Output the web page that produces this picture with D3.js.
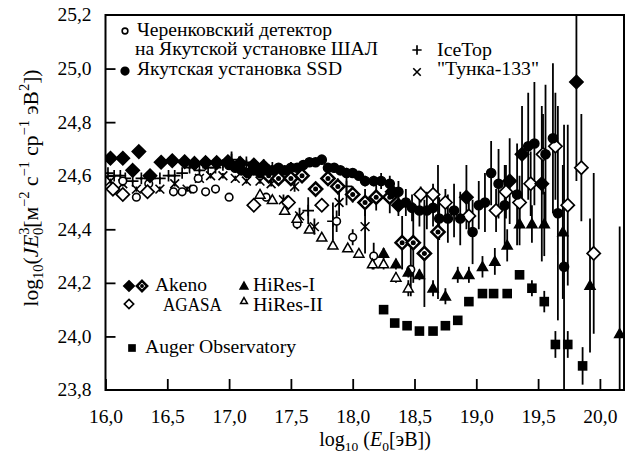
<!DOCTYPE html>
<html>
<head>
<meta charset="utf-8">
<script src="https://cdn.jsdelivr.net/npm/d3@7"></script>
<style>
body { margin: 0; background: #fff; }
text { font-family: "Liberation Serif", "Times New Roman", serif; fill: #000; }
</style>
</head>
<body>
<div id="graph"></div>
<script>
"use strict";

// Черенковский детектор, Якутск
var cherE   = [16.14,16.25,16.35,16.55,16.62,16.71,16.75,16.81,16.89,17.00,17.30,17.55,17.87,18.00,18.17,18.47];
var cherV   = [24.58,24.52,24.57,24.54,24.54,24.55,24.59,24.54,24.55,24.52,24.52,24.42,24.43,24.37,24.30,24.25];
var cherErr = [0.01,0.01,0.01,0.01,0.01,0.01,0.01,0.01,0.01,0.01,0.015,0.02,0.04,0.03,0.05,0.1];

// Якутская установка SSD
var ssdE   = [17.00,17.05,17.10,17.15,17.20,17.25,17.30,17.35,17.40,17.45,17.50,17.55,17.60,17.65,17.70,17.75,17.80,17.85,17.90,17.95,18.00,18.05,18.10,
              18.17,18.23,18.30,18.37,18.43,18.48,18.54,18.60,18.65,18.70,18.77,18.82,18.87,18.97,
              19.02,19.07,19.12,19.18,19.23,19.33,19.42,19.47,19.56,19.62,19.66,19.71];
var ssdV   = [24.64,24.63,24.62,24.61,24.62,24.61,24.62,24.62,24.63,24.62,24.63,24.63,24.64,24.65,24.65,24.66,24.63,24.63,24.62,24.61,24.61,24.60,24.58,
              24.58,24.58,24.57,24.54,24.50,24.48,24.47,24.47,24.48,24.44,24.44,24.47,24.44,24.39,
              24.49,24.50,24.61,24.57,24.49,24.53,24.71,24.72,24.68,24.74,24.46,24.26];
var ssdErr = [0.01,0.01,0.01,0.01,0.01,0.01,0.01,0.01,0.01,0.01,0.01,0.01,0.01,0.01,0.01,0.01,0.01,0.01,0.01,0.01,0.01,0.015,0.02,
              0.02,0.03,0.03,0.04,0.05,0.05,0.06,0.07,0.07,0.08,0.09,0.1,0.1,0.12,
              0.09,0.11,0.12,0.13,0.15,0.19,0.2,0.23,0.26,0.28,0.4,0.53];

// IceTop
var iceE   = [16.02,16.07,16.12,16.16,16.22,16.29,16.36,16.44,16.51,16.56,16.62,16.68,16.76,16.83,16.89,16.95,17.02,17.08,17.14,17.20,17.28,17.35,17.42,17.50,17.64,17.84,17.95];
var iceV   = [24.61,24.60,24.60,24.59,24.58,24.59,24.59,24.59,24.60,24.60,24.61,24.63,24.62,24.63,24.63,24.64,24.66,24.65,24.65,24.63,24.64,24.63,24.62,24.63,24.47,24.43,24.56];
var iceErr = [0.005,0.005,0.005,0.005,0.005,0.005,0.005,0.005,0.005,0.005,0.005,0.005,0.005,0.005,0.01,0.01,0.03,0.01,0.01,0.01,0.01,0.01,0.01,0.02,0.05,0.07,0.07];

// Тунка-133
var tunkaE   = [16.04,16.14,16.25,16.44,16.56,16.66,16.76,16.85,16.95,17.05,17.14,17.25,17.34,17.44,17.53,17.57,17.69,17.89,18.10];
var tunkaV   = [24.58,24.57,24.55,24.55,24.57,24.55,24.59,24.60,24.60,24.59,24.58,24.58,24.57,24.51,24.56,24.45,24.41,24.50,24.41];
var tunkaErr = [0.01,0.01,0.01,0.01,0.01,0.01,0.01,0.01,0.01,0.01,0.01,0.01,0.01,0.02,0.02,0.03,0.03,0.05,0.1];

// Akeno (чёрные ромбы)
var akenoE   = [16.04,16.14,16.22,16.27,16.36,16.45,16.54,16.64,16.72,16.81,16.90,16.99,17.09,17.20,17.28,18.32,18.37,18.92,19.27,19.37,19.53,19.81];
var akenoV   = [24.665,24.665,24.62,24.69,24.60,24.65,24.656,24.652,24.646,24.649,24.649,24.652,24.646,24.64,24.634,24.54,24.49,24.52,24.58,24.68,24.57,24.95];
var akenoErr = [0.01,0.01,0.01,0.01,0.01,0.01,0.01,0.01,0.01,0.01,0.01,0.01,0.01,0.01,0.01,0.03,0.04,0.12,0.16,0.18,0.29,0.37];

// Akeno (ромбы с точкой)
var akenoDotE   = [17.32,17.40,17.50,17.59,17.70,17.80,17.88,18.00,18.10,18.19,18.30,18.40,18.49,18.58,18.69];
var akenoDotV   = [24.60,24.59,24.59,24.60,24.55,24.59,24.56,24.53,24.50,24.52,24.52,24.35,24.35,24.31,24.39];
var akenoDotErr = [0.01,0.01,0.01,0.01,0.02,0.02,0.03,0.03,0.05,0.05,0.06,0.1,0.15,0.2,0.25];

// AGASA
var agasaE   = [16.06,16.14,16.34,17.20,17.48,17.75,18.55,18.65,18.75,18.94,19.16,19.24,19.35,19.44,19.54,19.64,19.74,19.85,19.95];
var agasaV   = [24.55,24.53,24.54,24.49,24.50,24.49,24.53,24.53,24.50,24.45,24.47,24.54,24.50,24.57,24.68,24.71,24.49,24.63,24.31];
var agasaErr = [0.01,0.01,0.01,0.01,0.01,0.02,0.03,0.04,0.05,0.06,0.08,0.1,0.1,0.12,0.15,0.2,0.3,0.2,0.3];

// HiRes-I
var hires1E   = [18.25,18.35,18.45,18.54,18.65,18.75,18.85,18.94,19.05,19.15,19.25,19.35,19.45,19.55,19.70,19.92,20.16];
var hires1V   = [24.31,24.27,24.24,24.23,24.18,24.15,24.23,24.23,24.26,24.28,24.34,24.42,24.42,24.42,24.39,24.19,24.01];
var hires1Err = [0.02,0.02,0.02,0.02,0.03,0.03,0.03,0.03,0.04,0.05,0.06,0.08,0.07,0.12,0.25,0.25,0.4];

// HiRes-II
var hires2E   = [17.25,17.35,17.45,17.55,17.65,17.75,17.84,17.96,18.05,18.16,18.25,18.35,18.45];
var hires2V   = [24.53,24.51,24.47,24.44,24.40,24.37,24.34,24.33,24.31,24.27,24.27,24.22,24.18];
var hires2Err = [0.01,0.01,0.01,0.01,0.01,0.01,0.01,0.01,0.015,0.02,0.02,0.02,0.03];

// Auger Observatory
var augerE   = [18.25,18.34,18.44,18.54,18.65,18.75,18.85,18.94,19.05,19.14,19.25,19.35,19.45,19.55,19.64,19.74,19.86];
var augerV   = [24.10,24.05,24.04,24.02,24.02,24.04,24.06,24.13,24.16,24.16,24.16,24.23,24.18,24.13,23.97,23.97,23.89];
var augerErr = [0.005,0.005,0.005,0.005,0.005,0.005,0.005,0.005,0.01,0.01,0.01,0.015,0.03,0.04,0.05,0.05,0.07];

// graduations
var xTicks = [16.0,16.5,17.0,17.5,18.0,18.5,19.0,19.5,20.0];
var yTicks = [23.8,24.0,24.2,24.4,24.6,24.8,25.0,25.2];

var larg = 629, haut = 457;
var gauche = 105.5, droite = 624, haute = 15, bas = 390;

var svg = d3.select("#graph")
	.append("svg")
	.attr("width", larg)
	.attr("height", haut)
	.attr("viewBox", "0 0 " + larg + " " + haut);

var x = d3.scaleLinear().domain([16, 20.195]).range([gauche, droite]);
var y = d3.scaleLinear().domain([23.8, 25.2]).range([bas, haute]);
var fmt = function(d){ return d3.format(".1f")(d).replace(".", ","); };

svg.append("clipPath").attr("id", "zone")
	.append("rect")
	.attr("x", gauche).attr("y", haute)
	.attr("width", droite - gauche).attr("height", bas - haute);

// axes : ticks vers l'intérieur
var ax = svg.append("g").attr("transform", "translate(0," + bas + ")")
	.call(d3.axisBottom(x).tickValues(xTicks).tickSizeInner(-11).tickSizeOuter(0).tickPadding(22).tickFormat(fmt));
var ay = svg.append("g").attr("transform", "translate(" + gauche + ",0)")
	.call(d3.axisLeft(y).tickValues(yTicks).tickSizeInner(-10).tickSizeOuter(0).tickPadding(14).tickFormat(fmt));
[ax, ay].forEach(function(a){
	a.select(".domain").remove();
	a.selectAll("line").attr("stroke", "#000").attr("stroke-width", 1.8);
	a.selectAll("text").attr("font-size", 19.5).attr("font-family", "Liberation Serif").attr("fill", "#000");
});
ax.selectAll("text").attr("dy", 0).attr("y", 33);
ay.selectAll("text").attr("dy", "0.3em");
ay.selectAll(".tick").filter(function(d){ return d === 23.8 || d === 25.2; }).select("line").remove();

// cadre
svg.append("rect")
	.attr("x", gauche).attr("y", haute)
	.attr("width", droite - gauche).attr("height", bas - haute)
	.attr("fill", "none").attr("stroke", "#000").attr("stroke-width", 2);

// formes des marqueurs
function marque(g, type, k)
{
	var r;
	if (type === "diamond" || type === "diamondDot" || type === "diamondOpen") {
		r = 6.6 * k;
		g.append("path")
			.attr("d", "M0," + (-r) + "L" + r + ",0L0," + r + "L" + (-r) + ",0Z")
			.attr("fill", type === "diamond" ? "#000" : "#fff")
			.attr("stroke", "#000")
			.attr("stroke-width", type === "diamondDot" ? 2.5 : 1.7);
		if (type === "diamondDot")
			g.append("circle").attr("r", 2.5 * k).attr("fill", "#000");
	} else if (type === "circle" || type === "circleOpen") {
		g.append("circle")
			.attr("r", type === "circle" ? 4.5 * k : 3.8 * k)
			.attr("fill", type === "circle" ? "#000" : "#fff")
			.attr("stroke", "#000").attr("stroke-width", 1.6);
	} else if (type === "tri" || type === "triOpen") {
		r = 5 * k;
		g.append("path")
			.attr("d", "M0," + (-r) + "L" + r + "," + (r * 0.75) + "L" + (-r) + "," + (r * 0.75) + "Z")
			.attr("fill", type === "tri" ? "#000" : "#fff")
			.attr("stroke", "#000").attr("stroke-width", 1.5);
	} else if (type === "square") {
		r = 4.8 * k;
		g.append("rect").attr("x", -r).attr("y", -r).attr("width", 2 * r).attr("height", 2 * r).attr("fill", "#000");
	} else if (type === "plus") {
		r = 5.8 * k;
		g.append("path").attr("d", "M" + (-r) + ",0H" + r + "M0," + (-r) + "V" + r)
			.attr("stroke", "#000").attr("stroke-width", 1.7).attr("fill", "none");
	} else if (type === "cross") {
		r = 4.4 * k;
		g.append("path").attr("d", "M" + (-r) + "," + (-r) + "L" + r + "," + r + "M" + (-r) + "," + r + "L" + r + "," + (-r))
			.attr("stroke", "#000").attr("stroke-width", 1.6).attr("fill", "none");
	}
}

var series = [
	{ e: iceE,      v: iceV,      err: iceErr,      type: "plus" },
	{ e: tunkaE,    v: tunkaV,    err: tunkaErr,    type: "cross" },
	{ e: cherE,     v: cherV,     err: cherErr,     type: "circleOpen" },
	{ e: hires2E,   v: hires2V,   err: hires2Err,   type: "triOpen" },
	{ e: augerE,    v: augerV,    err: augerErr,    type: "square" },
	{ e: hires1E,   v: hires1V,   err: hires1Err,   type: "tri" },
	{ e: agasaE,    v: agasaV,    err: agasaErr,    type: "diamondOpen" },
	{ e: akenoDotE, v: akenoDotV, err: akenoDotErr, type: "diamondDot" },
	{ e: ssdE,      v: ssdV,      err: ssdErr,      type: "circle" },
	{ e: akenoE,    v: akenoV,    err: akenoErr,    type: "diamond" }
];

var plot = svg.append("g").attr("clip-path", "url(#zone)");

// barres d'erreur d'abord
series.forEach(function(s){
	var pts = s.e.map(function(d, i){ return { e: d, v: s.v[i], err: s.err[i] }; });
	plot.append("g").selectAll("line")
		.data(pts)
		.enter()
		.append("line")
		.attr("x1", function(d){ return x(d.e); })
		.attr("x2", function(d){ return x(d.e); })
		.attr("y1", function(d){ return y(d.v - d.err); })
		.attr("y2", function(d){ return y(d.v + d.err); })
		.attr("stroke", "#000")
		.attr("stroke-width", 1.8);
});

series.forEach(function(s){
	var pts = s.e.map(function(d, i){ return { e: d, v: s.v[i] }; });
	plot.append("g").selectAll("g")
		.data(pts)
		.enter()
		.append("g")
		.attr("transform", function(d){ return "translate(" + x(d.e) + "," + y(d.v) + ")"; })
		.each(function(){ marque(d3.select(this), s.type, 1); });
});

// légende
var legende = [
	{ type: "circleOpen", k: 0.75, mx: 125, my: 31, tx: 137, ty: 36, txt: "Черенковский детектор", w: 195 },
	{ type: null, tx: 135, ty: 55, txt: "на Якутской установке ШАЛ", w: 243 },
	{ type: "circle", k: 0.85, mx: 125, my: 71, tx: 137, ty: 75, txt: "Якутская установка SSD", w: 205 },
	{ type: "plus", k: 0.8, mx: 417, my: 50, tx: 437, ty: 56, txt: "IceTop", w: 55 },
	{ type: "cross", k: 0.85, mx: 417, my: 72, tx: 437, ty: 75, txt: "\"Тунка-133\"", w: 102 },
	{ type: "diamond", k: 0.78, mx: 129, my: 286, tx: 155, ty: 291, txt: "Akeno", w: 52 },
	{ type: "diamondDot", k: 0.78, mx: 142, my: 286, tx: null },
	{ type: "diamondOpen", k: 0.7, mx: 129, my: 304, tx: 163, ty: 311, txt: "AGASA", w: 59 },
	{ type: "tri", k: 0.78, mx: 244, my: 286, tx: 253, ty: 291, txt: "HiRes-I", w: 62 },
	{ type: "triOpen", k: 0.68, mx: 244, my: 301, tx: 253, ty: 311, txt: "HiRes-II", w: 70 },
	{ type: "square", k: 0.8, mx: 132, my: 348, tx: 145, ty: 353, txt: "Auger Observatory", w: 151 }
];

legende.forEach(function(l){
	if (l.type)
		marque(svg.append("g").attr("transform", "translate(" + l.mx + "," + l.my + ")"), l.type, l.k);
	if (l.tx !== null && l.txt)
		svg.append("text")
			.attr("x", l.tx).attr("y", l.ty)
			.attr("font-size", 18)
			.attr("textLength", l.w)
			.attr("lengthAdjust", "spacingAndGlyphs")
			.text(l.txt);
});

// titre de l'axe x
var titreX = svg.append("text")
	.attr("x", 375).attr("y", 446)
	.attr("text-anchor", "middle")
	.attr("font-size", 20);
titreX.append("tspan").text("log");
titreX.append("tspan").attr("font-size", 13.5).attr("dy", 5).text("10");
titreX.append("tspan").attr("dy", -5).text(" (");
titreX.append("tspan").attr("font-style", "italic").text("E");
titreX.append("tspan").attr("font-size", 13.5).attr("dy", 5).text("0");
titreX.append("tspan").attr("dy", -5).text("[эВ])");

// titre de l'axe y
var titreY = svg.append("text")
	.attr("transform", "translate(38,188) rotate(-90)")
	.attr("text-anchor", "middle")
	.attr("font-size", 21.5);
titreY.append("tspan").text("log");
titreY.append("tspan").attr("font-size", 14.5).attr("dy", 5).text("10");
titreY.append("tspan").attr("dy", -5).text("(");
titreY.append("tspan").attr("font-style", "italic").text("JE");
titreY.append("tspan").attr("font-size", 14.5).attr("dy", -9).text("3");
titreY.append("tspan").attr("font-size", 14.5).attr("dx", -7.5).attr("dy", 14).text("0");
titreY.append("tspan").attr("dy", -5).text("[м");
titreY.append("tspan").attr("font-size", 14.5).attr("dy", -9).text("−2");
titreY.append("tspan").attr("dy", 9).text(" с");
titreY.append("tspan").attr("font-size", 14.5).attr("dy", -9).text("−1");
titreY.append("tspan").attr("dy", 9).text(" ср");
titreY.append("tspan").attr("font-size", 14.5).attr("dy", -9).text("−1");
titreY.append("tspan").attr("dy", 9).text(" эВ");
titreY.append("tspan").attr("font-size", 14.5).attr("dy", -9).text("2");
titreY.append("tspan").attr("dy", 9).text("])");
</script>
</body>
</html>
